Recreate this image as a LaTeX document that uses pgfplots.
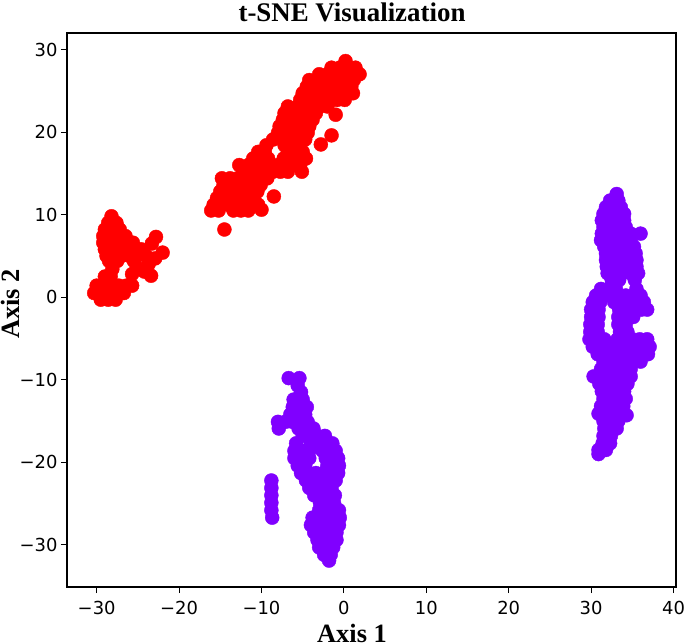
\documentclass[border=0pt]{standalone}
\usepackage{fontspec}
\setmainfont{Liberation Serif}
\newfontfamily\dejavu{DejaVu Sans}
\usepackage{pgfplots}
\pgfplotsset{compat=1.18}
\definecolor{tsnered}{RGB}{255,0,0}
\definecolor{tsnepurple}{RGB}{128,0,255}

\begin{document}
\begin{tikzpicture}
\begin{axis}[
    scale only axis,
    width=609bp, height=554bp,
    xmin=-33.6, xmax=40.3, ymin=-35.1, ymax=32.0,
    xtick={-30,-20,-10,0,10,20,30,40},
    xticklabels={−30,−20,−10,0,10,20,30,40},
    ytick={-30,-20,-10,0,10,20,30},
    yticklabels={−30,−20,−10,0,10,20,30},
    tick align=outside, tick pos=left,
    major tick length=6bp,
    axis line style={line width=1.1bp},
    every tick/.style={black, line width=1bp},
    ticklabel style={font=\dejavu\fontsize{18}{20}\selectfont},
    xticklabel style={yshift=-5bp},
    title={t-SNE Visualization},
    title style={font=\bfseries\fontsize{27}{30}\selectfont, inner sep=0pt,
        at={(axis description cs:0.468,1.0105)}, anchor=base},
    xlabel={Axis 1}, ylabel={Axis 2},
    xlabel style={font=\bfseries\fontsize{26.5}{30}\selectfont, inner sep=0pt,
        at={(axis description cs:0.468,-0.1)}, anchor=base},
    ylabel style={font=\bfseries\fontsize{26.5}{30}\selectfont, inner sep=0pt,
        at={(axis description cs:-0.0772,0.511)}, anchor=base},
    clip=false,
]
% cluster A (red)
\addplot[only marks, mark=*, mark size=7bp, color=tsnered, mark options={draw=none, fill=tsnered}] coordinates {
(0.2,28.6)
(-1.5,27.8) (-0.5,27.8) (0.5,27.8) (1.4,27.8)
(-3.0,27.0) (-2.0,27.0) (-1.0,27.0) (0.0,27.0) (1.0,27.0) (1.9,27.0)
(-4.2,26.3) (-3.3,26.3) (-2.4,26.3) (-1.5,26.3) (-0.6,26.3) (0.3,26.3) (1.2,26.3)
(-4.5,25.5) (-3.6,25.5) (-2.7,25.5) (-1.8,25.5) (-0.9,25.5) (0.0,25.5) (0.9,25.5)
(-5.0,24.7) (-4.1,24.7) (-3.2,24.7) (-2.3,24.7) (-1.4,24.7) (-0.5,24.7) (0.4,24.7) (1.1,24.7)
(-5.3,23.9) (-4.4,23.9) (-3.5,23.9) (-2.6,23.9) (-1.7,23.9) (-0.8,23.9) (0.1,23.9)
(-6.8,23.1) (-5.6,23.1) (-4.7,23.1) (-3.8,23.1) (-2.9,23.1) (-2.0,23.1)
(-7.2,22.3) (-6.2,22.3) (-5.2,22.3) (-4.3,22.3) (-3.4,22.3) (-1.0,22.1)
(-7.4,21.5) (-6.5,21.5) (-5.6,21.5) (-4.7,21.5) (-3.8,21.5)
(-7.8,20.7) (-6.9,20.7) (-6.0,20.7) (-5.1,20.7) (-4.2,20.7)
(-8.0,19.9) (-7.1,19.9) (-6.2,19.9) (-5.3,19.9) (-4.4,19.9) (-1.5,19.6)
(-8.6,19.1) (-7.4,19.1) (-6.5,19.1) (-5.6,19.1) (-4.7,19.1)
(-9.4,18.4) (-7.2,18.4) (-6.3,18.4) (-5.4,18.4) (-2.8,18.5)
(-10.4,17.6) (-9.6,17.6) (-6.8,17.6) (-5.9,17.6) (-5.0,17.6)
(-11.0,16.8) (-10.1,16.8) (-9.2,16.8) (-7.3,16.8) (-6.4,16.8) (-5.5,16.8) (-4.6,16.8)
(-12.7,16.0) (-11.6,16.0) (-10.7,16.0) (-9.8,16.0) (-8.9,16.0) (-8.0,16.0) (-7.1,16.0) (-6.2,16.0) (-5.3,16.0)
(-12.2,15.2) (-11.3,15.2) (-10.4,15.2) (-9.5,15.2) (-8.6,15.2) (-7.7,15.2) (-6.8,15.2) (-5.1,15.2)
(-14.8,14.4) (-13.8,14.4) (-12.9,14.4) (-12.0,14.4) (-11.1,14.4) (-10.2,14.4) (-9.3,14.4)
(-14.6,13.6) (-13.7,13.6) (-12.8,13.6) (-11.9,13.6) (-11.0,13.6) (-10.1,13.6)
(-15.0,12.8) (-14.1,12.8) (-13.2,12.8) (-12.3,12.8) (-11.4,12.8) (-10.5,12.8)
(-15.4,12.0) (-14.5,12.0) (-13.6,12.0) (-12.7,12.0) (-11.8,12.0) (-10.9,12.0) (-8.5,12.2)
(-15.8,11.2) (-14.9,11.2) (-14.0,11.2) (-13.1,11.2) (-12.2,11.2) (-11.3,11.2) (-10.4,11.2)
(-16.1,10.5) (-15.2,10.5) (-13.4,10.5) (-12.5,10.5) (-11.6,10.5) (-10.0,10.6)
(-14.5,8.2)
(-28.2,9.8)
(-28.6,9.0) (-27.6,9.0)
(-29.0,8.2) (-28.1,8.2) (-27.2,8.2)
(-29.2,7.4) (-28.3,7.4) (-27.4,7.4) (-26.5,7.4)
(-29.2,6.6) (-28.3,6.6) (-27.4,6.6) (-26.5,6.6) (-25.6,6.6)
(-29.0,5.8) (-28.1,5.8) (-27.2,5.8) (-26.3,5.8) (-25.4,5.8) (-24.6,5.8)
(-28.8,5.0) (-27.9,5.0) (-27.0,5.0) (-26.0,5.0) (-25.1,5.0) (-24.0,5.0)
(-28.5,4.4) (-27.5,4.4) (-25.5,4.4)
(-22.8,7.3) (-23.3,6.5) (-22.0,5.4) (-22.9,4.7) (-23.7,4.0) (-24.2,3.1)
(-23.4,2.6) (-25.1,3.6) (-25.7,2.8)
(-28.1,3.4)
(-29.0,2.5) (-28.3,2.5)
(-30.0,1.4) (-29.1,1.4) (-28.2,1.4) (-27.3,1.4) (-26.4,1.4) (-25.7,1.4)
(-30.3,0.5) (-29.4,0.5) (-28.5,0.5) (-27.6,0.5) (-26.7,0.5)
(-29.5,-0.3) (-28.6,-0.3) (-27.7,-0.3)
};
% cluster B (purple)
\addplot[only marks, mark=*, mark size=7bp, color=tsnepurple, mark options={draw=none, fill=tsnepurple}] coordinates {
(33.1,12.5)
(32.3,11.7) (33.3,11.7)
(31.8,10.9) (32.7,10.9) (33.6,10.9)
(31.5,10.1) (32.4,10.1) (33.3,10.1) (34.0,10.1)
(31.3,9.3) (32.2,9.3) (33.1,9.3) (34.0,9.3)
(31.5,8.5) (32.4,8.5) (33.3,8.5) (34.2,8.5)
(31.3,7.7) (32.2,7.7) (33.1,7.7) (34.0,7.7) (34.8,7.7) (36.0,7.7)
(31.2,6.9) (32.1,6.9) (33.0,6.9) (33.9,6.9) (34.8,6.9)
(31.6,6.1) (32.5,6.1) (33.4,6.1) (34.3,6.1) (35.2,6.1)
(31.8,5.3) (32.7,5.3) (33.6,5.3) (34.5,5.3) (35.4,5.3)
(31.8,4.5) (32.7,4.5) (33.6,4.5) (34.5,4.5) (35.5,4.5)
(31.9,3.7) (32.8,3.7) (33.7,3.7) (34.6,3.7) (35.5,3.7)
(32.0,2.9) (32.9,2.9) (33.8,2.9) (34.8,2.9) (35.7,2.9)
(32.5,2.1) (33.4,2.1) (35.3,2.1)
(31.2,1.0) (32.1,1.0) (33.0,1.0) (35.5,1.0)
(30.6,0.2) (31.5,0.2) (32.4,0.2) (33.3,0.2) (34.2,0.2) (35.1,0.2) (36.0,0.2)
(30.2,-0.6) (31.1,-0.6) (32.8,-0.6) (33.7,-0.6) (34.6,-0.6) (35.5,-0.6) (36.4,-0.6)
(30.0,-1.5) (30.9,-1.5) (33.4,-1.5) (34.3,-1.5) (35.2,-1.5) (36.1,-1.5) (36.8,-1.5)
(30.0,-2.4) (30.9,-2.4) (33.3,-2.4) (34.2,-2.4) (35.1,-2.4)
(29.9,-3.3) (30.8,-3.3) (33.3,-3.3) (34.2,-3.3)
(29.9,-4.2) (30.8,-4.2) (33.5,-4.2) (34.4,-4.2)
(29.8,-5.1) (30.7,-5.1) (31.6,-5.1) (33.2,-5.1) (34.1,-5.1) (35.0,-5.1) (35.9,-5.1) (36.8,-5.1)
(30.2,-6.0) (31.1,-6.0) (32.6,-6.0) (33.5,-6.0) (34.4,-6.0) (35.3,-6.0) (36.2,-6.0) (37.1,-6.0)
(30.8,-6.9) (31.7,-6.9) (32.6,-6.9) (33.5,-6.9) (34.4,-6.9) (35.3,-6.9) (36.2,-6.9) (36.9,-6.9)
(31.5,-7.8) (32.4,-7.8) (33.3,-7.8) (34.2,-7.8) (35.1,-7.8) (36.0,-7.8)
(31.2,-8.7) (32.1,-8.7) (33.0,-8.7) (33.9,-8.7) (34.8,-8.7)
(30.3,-9.6) (31.2,-9.6) (32.1,-9.6) (33.0,-9.6) (33.9,-9.6) (34.8,-9.6)
(31.0,-10.5) (31.9,-10.5) (32.8,-10.5) (33.7,-10.5) (34.4,-10.5)
(31.3,-11.4) (32.2,-11.4) (33.1,-11.4) (34.0,-11.4)
(31.5,-12.3) (32.4,-12.3) (33.3,-12.3) (34.2,-12.3)
(31.2,-13.2) (32.1,-13.2) (33.0,-13.2) (33.9,-13.2)
(30.9,-14.1) (31.8,-14.1) (32.7,-14.1) (33.6,-14.1) (34.3,-14.3)
(31.5,-15.0) (32.4,-15.0) (33.3,-15.0)
(31.6,-15.9) (32.5,-15.9) (33.1,-15.9)
(31.5,-16.8) (32.4,-16.8)
(31.4,-17.7) (32.3,-17.7)
(30.9,-18.5) (31.8,-18.5)
(30.9,-19.0)
(-6.7,-9.8) (-5.4,-9.8)
(-5.6,-10.7)
(-5.2,-11.5)
(-6.1,-12.4) (-5.0,-12.4)
(-6.2,-13.3) (-5.3,-13.3) (-4.5,-13.3)
(-6.5,-14.2) (-5.6,-14.2) (-4.7,-14.2)
(-8.0,-15.1) (-7.1,-15.1) (-6.2,-15.1) (-5.3,-15.1) (-4.4,-15.1)
(-7.9,-15.9) (-5.5,-15.9) (-4.6,-15.9) (-3.7,-15.9)
(-5.0,-16.8) (-4.1,-16.8) (-3.2,-16.8) (-2.3,-16.8)
(-5.8,-17.7) (-4.0,-17.7) (-3.1,-17.7) (-2.2,-17.7) (-1.4,-17.7)
(-6.0,-18.6) (-5.1,-18.6) (-4.2,-18.6) (-2.6,-18.6) (-1.7,-18.6) (-1.0,-18.6)
(-6.0,-19.5) (-5.1,-19.5) (-4.2,-19.5) (-2.2,-19.5) (-1.3,-19.5) (-0.7,-19.5)
(-5.6,-20.4) (-4.7,-20.4) (-2.0,-20.4) (-1.1,-20.4) (-0.6,-20.4)
(-5.2,-21.3) (-4.3,-21.3) (-3.4,-21.3) (-2.5,-21.3) (-1.6,-21.3) (-0.7,-21.3)
(-4.6,-22.2) (-3.7,-22.2) (-2.8,-22.2) (-1.9,-22.2) (-1.0,-22.2)
(-4.2,-23.1) (-3.3,-23.1) (-2.4,-23.1) (-1.5,-23.1)
(-3.6,-24.0) (-2.7,-24.0) (-1.8,-24.0) (-1.1,-24.0)
(-2.9,-24.9) (-2.0,-24.9) (-1.2,-24.9)
(-3.0,-25.8) (-2.1,-25.8) (-1.2,-25.8) (-0.6,-25.8)
(-3.8,-26.7) (-2.9,-26.7) (-2.0,-26.7) (-1.1,-26.7) (-0.5,-26.7)
(-4.0,-27.6) (-3.1,-27.6) (-2.2,-27.6) (-1.3,-27.6) (-0.6,-27.6)
(-3.6,-28.5) (-2.7,-28.5) (-1.8,-28.5) (-0.9,-28.5)
(-3.2,-29.4) (-2.3,-29.4) (-1.4,-29.4) (-0.9,-29.4)
(-3.0,-30.3) (-2.1,-30.3) (-1.3,-30.3)
(-2.4,-31.2) (-1.6,-31.2)
(-1.8,-31.9)
(-8.8,-22.2) (-8.8,-23.1) (-8.8,-24.0) (-8.8,-24.9) (-8.8,-25.8) (-8.7,-26.7)
};
\end{axis}
\pgfresetboundingbox
\path[use as bounding box] ([shift={(-67bp,-56bp)}]current axis.south west)
    rectangle ([shift={(9bp,33bp)}]current axis.north east);
\end{tikzpicture}
\end{document}
